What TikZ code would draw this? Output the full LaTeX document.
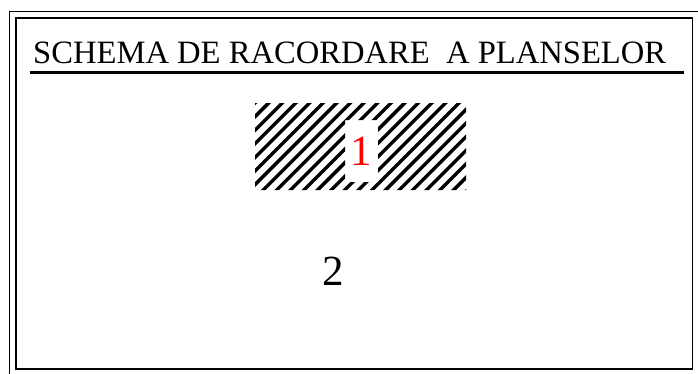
\documentclass[tikz,border=0pt]{standalone}
\usepackage{fontspec}
\setmainfont{Liberation Serif}
\begin{document}
\begin{tikzpicture}[x=1pt,y=-1pt,
  frameline/.style={draw=black,line width=1pt},
  innerline/.style={draw=black,line width=1.6pt},
  hatchline/.style={draw=black,line width=3.4pt,line cap=round},
  titletext/.style={inner sep=0pt,anchor=base west,font=\fontsize{32.6}{36}\selectfont},
  digittext/.style={inner sep=0pt,anchor=base,font=\fontsize{43}{48}\selectfont}]
\useasboundingbox (0,0) rectangle (698,373);
\fill[white] (0,0) rectangle (698,373);
% frames
\draw[frameline] (9,11) rectangle (710,385);
\draw[innerline] (16,18) rectangle (692.5,369);
% title
\node[titletext] (title) at (33,63) {SCHEMA DE RACORDARE\ \ A PLANSELOR};
\draw[line width=3pt] (30,72) -- (684,72);
% hatched sheet 1
\begin{scope}[even odd rule]
  \clip (255,103) rectangle (466,190) (345,120) rectangle (378,182);
  \foreach \k in {0,...,22}{
    \pgfmathsetmacro{\c}{358+13.6*\k}
    \draw[hatchline] (\c-90,90) -- (\c-200,200);
  }
\end{scope}
\node[digittext,text=red] (one) at (361,165) {1};
\node[digittext] (two) at (333,285) {2};
\end{tikzpicture}
\end{document}
